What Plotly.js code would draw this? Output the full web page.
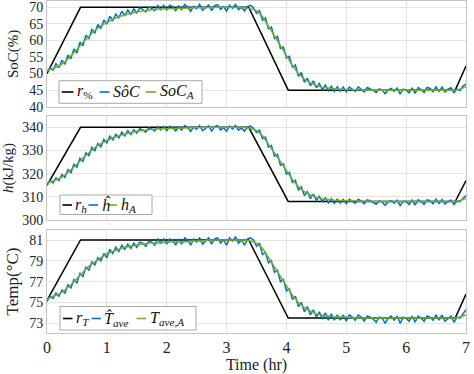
<!DOCTYPE html>
<html>
<head>
<meta charset="utf-8">
<script src="https://cdn.plot.ly/plotly-3.0.1.min.js"></script>
<style>html,body{margin:0;padding:0;background:#fff;}#chart{width:474px;height:374px;}</style>
</head>
<body>
<div id="chart"></div>
<script>
// ---- data ----
var refTime = [0, 0.56, 3.37, 4.03, 6.82, 7];
var refSoC  = [50, 70, 70, 45, 45, 52.3];
var refH    = [315, 340, 340, 308, 308, 317];
var refTemp = [75.2, 81, 81, 73.5, 73.5, 75.8];

var timeHat = [0,0.05,0.1,0.15,0.2,0.25,0.3,0.35,0.4,0.45,0.5,0.55,0.6,0.65,0.7,0.75,0.8,0.85,0.9,0.95,
1,1.05,1.1,1.15,1.2,1.25,1.3,1.35,1.4,1.45,1.5,1.55,1.6,1.65,1.7,1.75,1.8,1.85,1.9,1.95,
2,2.05,2.1,2.15,2.2,2.25,2.3,2.35,2.4,2.45,2.5,2.55,2.6,2.65,2.7,2.75,2.8,2.85,2.9,2.95,
3,3.05,3.1,3.15,3.2,3.25,3.3,3.35,3.4,3.45,3.5,3.55,3.6,3.65,3.7,3.75,3.8,3.85,3.9,3.95,
4,4.05,4.1,4.15,4.2,4.25,4.3,4.35,4.4,4.45,4.5,4.55,4.6,4.65,4.7,4.75,4.8,4.85,4.9,4.95,
5,5.05,5.1,5.15,5.2,5.25,5.3,5.35,5.4,5.45,5.5,5.55,5.6,5.65,5.7,5.75,5.8,5.85,5.9,5.95,
6,6.05,6.1,6.15,6.2,6.25,6.3,6.35,6.4,6.45,6.5,6.55,6.6,6.65,6.7,6.75,6.8,6.85,6.9,6.95,7];

var socHat = [50.5,51.8,51.0,53.0,51.8,54.0,52.8,55.6,54.5,57.4,
56.2,59.5,58.4,61.6,60.6,63.3,62.3,64.8,63.6,66.2,
64.9,67.3,66.0,67.9,66.8,68.8,67.5,69.2,67.9,69.5,
68.3,69.8,69.4,68.6,70.1,69.7,69.0,70.5,69.3,70.6,
69.2,70.6,70.2,69.0,70.4,69.3,70.9,70.1,68.8,70.3,
69.6,70.9,69.1,69.8,70.7,69.0,70.5,70.8,69.4,70.2,
68.9,70.6,69.7,70.9,69.3,70.0,68.9,70.3,70.6,69.9,
68.2,69.0,66.1,66.8,63.5,64.0,60.6,61.2,57.6,58.0,
54.7,55.2,51.9,52.6,49.2,50.3,47.4,48.6,46.3,47.8,
45.7,47.0,45.2,46.5,44.8,46.2,44.6,46.0,44.7,45.9,
44.5,45.9,45.2,44.6,46.0,45.3,44.5,45.8,45.4,44.9,
44.3,45.4,45.0,43.9,45.1,45.5,44.6,45.6,43.8,45.3,
45.0,44.2,45.7,44.0,45.8,45.2,44.3,45.8,45.5,44.5,
46.0,44.6,45.9,44.4,45.3,45.7,44.2,45.3,44.9,46.2,
46.8];

var hHat = [315.2,317.0,316.0,318.2,317.0,319.6,318.4,321.8,320.5,324.0,
322.8,326.6,325.3,329.0,327.8,331.3,329.9,333.0,331.6,334.8,
333.3,336.2,334.6,337.0,335.4,337.9,336.3,338.6,336.9,339.0,
337.5,339.4,338.9,337.9,339.8,339.3,338.4,340.3,338.9,340.4,
338.6,340.4,339.9,338.4,340.2,338.8,340.8,339.9,338.2,340.1,
339.2,340.8,338.6,339.5,340.6,338.4,340.3,340.7,338.9,339.9,
338.3,340.5,339.3,340.8,338.8,339.7,338.3,340.1,340.5,339.6,
337.8,338.8,335.1,335.8,331.4,332.1,327.6,328.3,323.7,324.3,
319.8,320.6,316.2,317.1,312.8,314.3,310.6,312.2,309.2,311.2,
308.5,310.2,307.9,309.6,307.4,309.2,307.2,309.0,307.3,308.9,
307.0,308.9,308.0,307.2,309.0,308.2,307.0,308.7,308.3,307.6,
306.8,308.3,307.8,306.3,307.9,308.4,307.2,308.5,306.2,308.1,
308.0,306.7,308.6,306.4,308.7,308.0,306.8,308.7,308.3,307.0,
309.0,307.1,308.8,306.9,308.1,308.6,306.7,308.1,307.9,309.4,
310.5];

var tempHat = [75.1,75.6,75.4,75.9,75.6,76.2,75.9,76.7,76.4,77.2,
76.9,77.8,77.5,78.4,78.1,78.9,78.6,79.3,79.0,79.7,
79.3,80.1,79.7,80.3,79.9,80.5,80.1,80.6,80.2,80.7,
80.3,80.8,80.7,80.4,80.9,80.8,80.5,81.1,80.7,81.1,
80.6,81.1,81.0,80.5,81.1,80.6,81.2,81.0,80.5,81.1,
80.8,81.2,80.6,80.9,81.2,80.6,81.1,81.2,80.7,81.0,
80.5,81.2,80.9,81.3,80.7,81.0,80.5,81.1,81.2,81.0,
80.4,80.7,79.6,79.8,78.8,79.0,77.9,78.1,77.0,77.2,
76.1,76.3,75.3,75.6,74.6,75.0,74.1,74.6,73.8,74.3,
73.6,74.1,73.4,74.0,73.3,73.9,73.3,73.8,73.3,73.8,
73.2,73.8,73.6,73.3,73.8,73.6,73.2,73.7,73.6,73.4,
73.1,73.6,73.5,73.0,73.5,73.7,73.3,73.7,73.0,73.6,
73.5,73.2,73.7,73.1,73.7,73.5,73.2,73.7,73.6,73.3,
73.8,73.3,73.8,73.2,73.5,73.7,73.1,73.6,73.5,73.9,
74.3];

var timeA = [0,0.1,0.2,0.3,0.4,0.5,0.6,0.7,0.8,0.9,1,1.1,1.2,1.3,1.4,1.5,1.6,1.7,1.8,1.9,
2,2.1,2.2,2.3,2.4,2.5,2.6,2.7,2.8,2.9,3,3.1,3.2,3.3,3.4,3.5,3.6,3.7,3.8,3.9,
4,4.1,4.2,4.3,4.4,4.5,4.6,4.7,4.8,4.9,5,5.1,5.2,5.3,5.4,5.5,5.6,5.7,5.8,5.9,
6,6.1,6.2,6.3,6.4,6.5,6.6,6.7,6.8,6.9,7];

var socA = [50.8,51.5,52.2,53.5,55.3,57.3,59.4,61.3,63.0,64.4,65.5,66.4,67.1,67.7,68.2,68.6,68.9,69.2,69.4,69.5,
69.6,69.7,69.8,69.8,69.9,69.9,69.9,70.0,70.0,70.0,70.0,70.0,70.0,69.9,69.6,69.0,67.2,64.4,61.4,58.4,
55.4,52.4,50.0,48.3,47.2,46.4,45.9,45.6,45.4,45.3,45.2,45.1,45.1,45.1,45.0,45.0,45.1,45.0,45.0,45.0,
45.1,45.0,45.0,45.0,45.0,45.1,45.0,45.0,45.0,45.3,46.0];

var hA = [316.0,316.9,317.8,319.4,321.6,324.1,326.8,329.1,331.3,333.0,334.4,335.5,336.4,337.1,337.8,338.3,338.6,339.0,339.3,339.4,
339.5,339.6,339.8,339.8,339.9,339.9,339.9,340.0,340.0,340.0,340.0,340.0,340.0,339.9,339.5,338.7,336.4,332.8,329.0,325.2,
321.3,317.5,314.4,312.2,310.8,309.8,309.2,308.8,308.5,308.4,308.3,308.2,308.1,308.1,308.1,308.0,308.1,308.0,308.0,308.0,
308.1,308.0,308.0,308.0,308.0,308.1,308.0,308.0,308.0,308.4,309.3];

var tempA = [75.3,75.6,75.8,76.2,76.7,77.3,77.9,78.5,78.9,79.3,79.7,79.9,80.1,80.3,80.4,80.5,80.6,80.7,80.7,80.7,
80.8,80.8,80.8,80.8,80.9,80.9,80.9,81.0,81.0,81.0,81.0,81.0,81.0,81.0,80.9,80.7,80.2,79.3,78.4,77.5,
76.6,75.7,75.0,74.5,74.2,73.9,73.8,73.7,73.6,73.6,73.6,73.5,73.5,73.5,73.5,73.5,73.5,73.5,73.5,73.5,
73.5,73.5,73.5,73.5,73.5,73.5,73.5,73.5,73.5,73.6,73.8];

var xTicks = [0,1,2,3,4,5,6,7];
var panelTitles = ['SoC(%)', '<i>h</i>(kJ/kg)', 'Temp(°C)'];
var legendText = [
  ['<i>r</i><sub>%</sub>', '<i>So\u0302C</i>', '<i>SoC</i><sub><i>A</i></sub>'],
  ['<i>r<sub>h</sub></i>', '<i>h\u0302</i>', '<i>h</i><sub><i>A</i></sub>'],
  ['<i>r<sub>T</sub></i>', '<i>T\u0302</i><sub><i>ave</i></sub>', '<i>T</i><sub><i>ave,A</i></sub>']
];

// ---- styles ----
var BLACK = '#000000', BLUE = '#0072BD', GREEN = '#77AC30';
var FONT = '"Liberation Serif", serif';
var W = 474, H = 374, ML = 47, MR = 8, MT = 1, MB = 41;
function PX(px){ return (px - ML) / (W - ML - MR); }
function PY(py){ return (H - MB - py) / (H - MT - MB); }

var traces = [];
var sets = [
  {ref: refSoC, hat: socHat, A: socA, ax: ''},
  {ref: refH, hat: hHat, A: hA, ax: '2'},
  {ref: refTemp, hat: tempHat, A: tempA, ax: '3'}
];
sets.forEach(function(s){
  traces.push({x: refTime, y: s.ref, xaxis: 'x'+s.ax, yaxis: 'y'+s.ax, mode: 'lines', line: {color: BLACK, width: 1.5}, showlegend: false, hoverinfo: 'skip'});
  traces.push({x: timeHat, y: s.hat, xaxis: 'x'+s.ax, yaxis: 'y'+s.ax, mode: 'lines', line: {color: BLUE, width: 1.5}, showlegend: false, hoverinfo: 'skip'});
  traces.push({x: timeA, y: s.A, xaxis: 'x'+s.ax, yaxis: 'y'+s.ax, mode: 'lines', line: {color: GREEN, width: 1.5}, showlegend: false, hoverinfo: 'skip'});
});

function xa(anchor, showLabels){
  return {anchor: anchor, domain: [0,1], range: [0,7], tickvals: xTicks, showticklabels: showLabels,
    showgrid: true, gridcolor: '#e4e4e4', gridwidth: 1, zeroline: false,
    showline: true, mirror: true, linecolor: '#c4c4c4', linewidth: 1, ticks: '',
    tickfont: {family: FONT, size: 16, color: '#222'}};
}
function ya(anchor, domain, range, tickvals, title, tsize){
  return {anchor: anchor, domain: domain, range: range, tickvals: tickvals,
    showgrid: true, gridcolor: '#e4e4e4', gridwidth: 1, zeroline: false,
    showline: true, mirror: true, linecolor: '#c4c4c4', linewidth: 1, ticks: '',
    tickfont: {family: FONT, size: 14, color: '#222'},
    title: {text: title, font: {family: FONT, size: tsize, color: '#222'}, standoff: 6}};
}

var layout = {
  width: W, height: H,
  margin: {l: ML, r: MR, t: MT, b: MB},
  paper_bgcolor: '#ffffff', plot_bgcolor: '#ffffff',
  font: {family: FONT, color: '#222'},
  showlegend: false,
  xaxis: xa('y', false),
  xaxis2: xa('y2', false),
  xaxis3: Object.assign(xa('y3', true), {title: {text: 'Time (hr)', font: {family: FONT, size: 16, color: '#222'}, standoff: 2}}),
  yaxis: ya('x', [PY(106.7), 1], [40, 71.9], [40,45,50,55,60,65,70], panelTitles[0], 15),
  yaxis2: ya('x2', [PY(220), PY(116)], [300, 344.9], [300,310,320,330,340], panelTitles[1], 15),
  yaxis3: ya('x3', [0, PY(230)], [72.07, 81.96], [73,75,77,79,81], panelTitles[2], 17),
  shapes: [], annotations: []
};

// custom legends (MATLAB style short samples)
var legendBoxes = [
  {x0: 59, x1: 202, y0: 80.7, y1: 103.3, ly: 92, lines: [[61.7,73.5],[99.5,109.5],[145.5,156]], tx: [75, 111, 157.5]},
  {x0: 60, x1: 152, y0: 195, y1: 214.5, ly: 205, lines: [[62.5,72],[88.5,98],[107.5,117]], tx: [73, 99.5, 118.5]},
  {x0: 60, x1: 196, y0: 306.5, y1: 330, ly: 318.5, lines: [[63,72.5],[91.5,101],[136.5,146]], tx: [73.5, 102, 147.5]}
];
var colors = [BLACK, BLUE, GREEN];
legendBoxes.forEach(function(b, i){
  layout.shapes.push({type: 'rect', xref: 'paper', yref: 'paper', x0: PX(b.x0), x1: PX(b.x1), y0: PY(b.y1), y1: PY(b.y0),
    line: {color: '#a8a8a8', width: 1}, fillcolor: '#ffffff', layer: 'above'});
  for (var k = 0; k < 3; k++) {
    layout.shapes.push({type: 'line', xref: 'paper', yref: 'paper', x0: PX(b.lines[k][0]), x1: PX(b.lines[k][1]), y0: PY(b.ly), y1: PY(b.ly),
      line: {color: colors[k], width: 1.6}, layer: 'above'});
    layout.annotations.push({xref: 'paper', yref: 'paper', x: PX(b.tx[k]), y: PY(b.ly), xanchor: 'left', yanchor: 'middle',
      text: legendText[i][k], showarrow: false, font: {family: FONT, size: 16, color: '#111'}});
  }
});

Plotly.newPlot('chart', traces, layout, {staticPlot: true, displayModeBar: false});
</script>
</body>
</html>
